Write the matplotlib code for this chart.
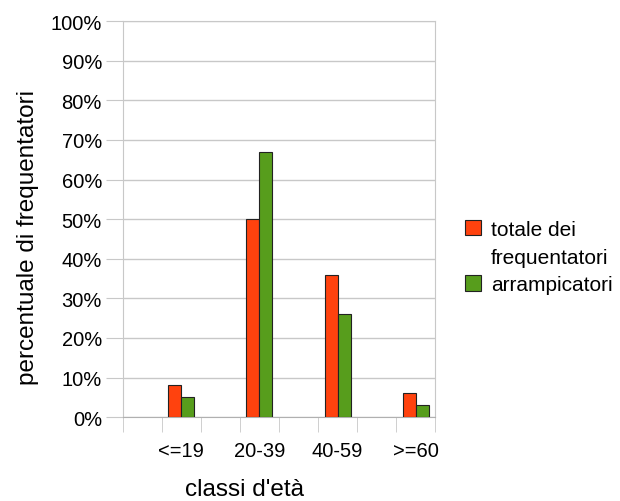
import numpy as np
import matplotlib
matplotlib.use('Agg')
import matplotlib.pyplot as plt
from matplotlib.patches import Patch
from matplotlib.ticker import FixedLocator, FuncFormatter

plt.rcParams['font.family'] = ['Liberation Sans', 'DejaVu Sans']

# categories (empty slots sit between the age classes, as in the original sheet)
categorie = ['', '<=19', '', '20-39', '', '40-59', '', '>=60']
totale = [None, 8, None, 50, None, 36, None, 6]
arrampicatori = [None, 5, None, 67, None, 26, None, 3]
serie = ['totale dei\nfrequentatori', 'arrampicatori']
colori = ['#FF420E', '#579D1C']

fig = plt.figure(figsize=(6.2, 5.02), dpi=100)
ax = fig.add_axes([0.198, 0.167, 0.504, 0.789])

x = np.arange(len(categorie))
w = 1 / 3
ax.bar(x - w / 2, np.array(totale, dtype=float), w, color=colori[0], edgecolor='#222222',
       linewidth=0.8, label=serie[0], zorder=3)
ax.bar(x + w / 2, np.array(arrampicatori, dtype=float), w, color=colori[1], edgecolor='#222222',
       linewidth=0.8, label=serie[1], zorder=3)

ax.set_xlim(-0.5, len(categorie) - 0.5)
ax.set_ylim(0, 100)
ax.set_yticks(np.arange(0, 101, 10))
ax.yaxis.set_major_formatter(FuncFormatter(lambda v, p: '%d%%' % v))
ax.grid(axis='y', color='#c8c8c8', linewidth=1, zorder=0)
ax.tick_params(axis='y', length=12, color='#c8c8c8', labelsize=14.5, pad=3)

ax.set_xticks(x)
ax.set_xticklabels(categorie)
ax.tick_params(axis='x', which='major', length=0, labelsize=14.5, pad=17)
ax.xaxis.set_minor_locator(FixedLocator(np.arange(-0.5, len(categorie), 1)))
ax.tick_params(axis='x', which='minor', length=11, color='#c8c8c8', direction='out')

for s in ['left', 'right', 'top', 'bottom']:
    ax.spines[s].set_color('#c8c8c8')
ax.spines['bottom'].set_color('#b0b0b0')

ax.set_ylabel('percentuale di frequentatori', fontsize=17.5, va='center')
ax.yaxis.set_label_coords(-0.304, 0.455)
ax.set_xlabel("classi d'età", fontsize=17.5, va='center')
ax.xaxis.set_label_coords(0.388, -0.182)

# legend: the wrapped label gets its own row so the swatch sits on the first line
righe = serie[0].split('\n') + [serie[1]]
maniglie = [Patch(facecolor=colori[0], edgecolor='#222222', linewidth=0.8),
            Patch(facecolor='none', edgecolor='none'),
            Patch(facecolor=colori[1], edgecolor='#222222', linewidth=0.8)]
leg = fig.legend(maniglie, righe, loc='center left', bbox_to_anchor=(0.75, 0.486),
                 frameon=False, fontsize=15, handlelength=0.75, handleheight=0.75,
                 handletextpad=0.5, labelspacing=0.42, borderpad=0, borderaxespad=0)

fig.savefig('out.png', dpi=100)
